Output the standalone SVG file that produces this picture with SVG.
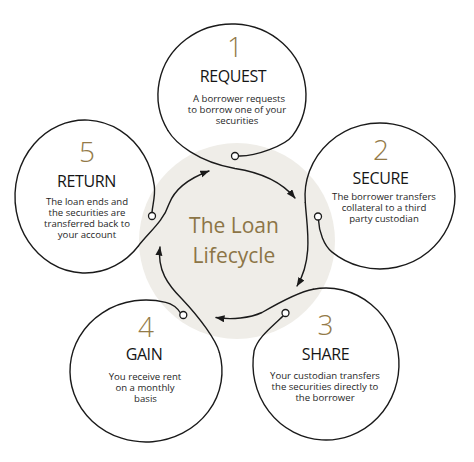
<svg xmlns="http://www.w3.org/2000/svg" width="474" height="462" viewBox="0 0 474 462">
<style>
.bg{fill:#ffffff}
.disc{fill:#efede8}
.ln{fill:none;stroke:#1a1a1a;stroke-width:1.4;stroke-linecap:round}
.dot{fill:#ffffff;stroke:#1a1a1a;stroke-width:1.3}
.num{font-family:"Open Sans","Noto Sans",sans-serif;font-weight:300;font-size:28px;fill:#937a48;text-anchor:middle}
.ttl{font-family:"Open Sans","Noto Sans",sans-serif;font-size:16px;letter-spacing:-0.4px;fill:#151515;text-anchor:middle}
.dsc{font-family:"Open Sans","Noto Sans",sans-serif;font-size:9.6px;fill:#1f1f1f;text-anchor:middle}
.ctr{font-family:"Open Sans","Noto Sans",sans-serif;font-size:21px;fill:#8c7546;text-anchor:middle}
</style>
<defs>
<marker id="ah" markerUnits="userSpaceOnUse" markerWidth="9" markerHeight="8" refX="8.5" refY="3.5" orient="auto">
<path d="M0,0 L9,3.5 L0,7 Z" fill="#1a1a1a"/>
</marker>
</defs>
<rect class="bg" x="0" y="0" width="474" height="462"/>
<circle class="disc" cx="237" cy="241" r="98"/>
<text class="ctr" x="234" y="233">The Loan</text>
<text class="ctr" x="234" y="263">Lifecycle</text>

<g id="node1">
<path class="ln" d="M238.5,156 C256,156.5 285.5,145.4 292.6,135.7 A74 71 0 1 0 167.9,130.5"/>
<circle class="dot" cx="235" cy="156" r="3.5"/>
<text class="num" x="235" y="57">1</text>
<text class="ttl" x="233" y="82">REQUEST</text>
<text class="dsc" x="239" y="102">A borrower requests</text>
<text class="dsc" x="237" y="113">to borrow one of your</text>
<text class="dsc" x="237" y="124">securities</text>
</g>

<g id="node2">
<path class="ln" d="M318.5,220 C319,232 324,245.6 331.8,251.9 A75 73 0 1 0 305.3,202.4"/>
<circle class="dot" cx="318" cy="216.5" r="3.5"/>
<text class="num" x="381" y="160">2</text>
<text class="ttl" x="380.5" y="183.5">SECURE</text>
<text class="dsc" x="384" y="200">The borrower transfers</text>
<text class="dsc" x="384" y="211">collateral to a third</text>
<text class="dsc" x="384" y="222">party custodian</text>
</g>

<g id="node3">
<path class="ln" d="M283,316 C272,327 258,337 254.1,350.8 A73 76 0 1 0 313.3,289.2"/>
<circle class="dot" cx="285.5" cy="313" r="3.5"/>
<text class="num" x="325.5" y="335">3</text>
<text class="ttl" x="325.5" y="360">SHARE</text>
<text class="dsc" x="325" y="379">Your custodian transfers</text>
<text class="dsc" x="325" y="390">the securities directly to</text>
<text class="dsc" x="325" y="401">the borrower</text>
</g>

<g id="node4">
<path class="ln" d="M180.5,313 C178,309 173.5,304.3 165.7,302.4 A76 71 0 1 0 219.4,352.6"/>
<circle class="dot" cx="183.3" cy="315" r="3.5"/>
<text class="num" x="146" y="337">4</text>
<text class="ttl" x="144" y="360">GAIN</text>
<text class="dsc" x="145" y="379.5">You receive rent</text>
<text class="dsc" x="145" y="390.5">on a monthly</text>
<text class="dsc" x="145.5" y="401.5">basis</text>
</g>

<g id="node5">
<path class="ln" d="M152,212.5 C152.5,205 155.6,195.8 154.3,185.9 A70 76.5 0 1 0 138.6,245.7"/>
<circle class="dot" cx="152" cy="216" r="3.5"/>
<text class="num" x="87" y="162">5</text>
<text class="ttl" x="86.5" y="187">RETURN</text>
<text class="dsc" x="87" y="205">The loan ends and</text>
<text class="dsc" x="87" y="216">the securities are</text>
<text class="dsc" x="87" y="227">transferred back to</text>
<text class="dsc" x="87" y="238">your account</text>
</g>

<g id="connectors">
<path class="ln" marker-end="url(#ah)" d="M167.9,130.5 C175.6,143.4 198,162 235,168.5 C258,172 280,180 295,198"/>
<path class="ln" marker-end="url(#ah)" d="M305.3,202.4 C306.5,225 314,258 297,286"/>
<path class="ln" marker-end="url(#ah)" d="M313.3,289.2 C299,291.8 280,302 262,312.5 C250,318 232,320 216,317.5"/>
<path class="ln" marker-end="url(#ah)" d="M219.4,352.6 C216,340 200,318 182,299 C168,285 157,270 160,247"/>
<path class="ln" marker-end="url(#ah)" d="M138.6,245.7 C149,232 163,222 169,204 C175,188 190,178 209,171"/>
</g>
</svg>
